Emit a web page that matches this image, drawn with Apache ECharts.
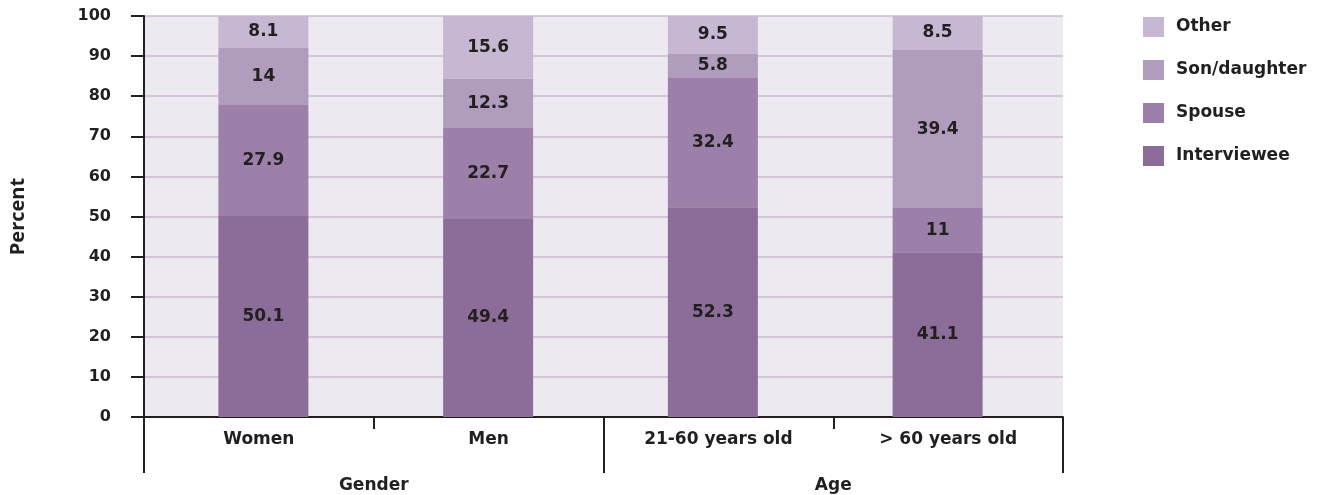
<!DOCTYPE html>
<html>
<head>
<meta charset="utf-8">
<script src="https://cdn.jsdelivr.net/npm/echarts@6/dist/echarts.min.js"></script>
<style>
html,body{margin:0;padding:0;background:#fff;}
#chart{width:1323px;height:495px;}
</style>
</head>
<body>
<div id="chart"></div>
<script>
var categories = ['Women', 'Men', '21-60 years old', '> 60 years old'];
var groups = ['Gender', 'Age'];
var interviewee = [50.1, 49.4, 52.3, 41.1];
var spouse = [27.9, 22.7, 32.4, 11];
var sonDaughter = [14, 12.3, 5.8, 39.4];
var other = [8.1, 15.6, 9.5, 8.5];
var seriesNames = ['Interviewee', 'Spouse', 'Son/daughter', 'Other'];
var legendOrder = ['Other', 'Son/daughter', 'Spouse', 'Interviewee'];
var yTicks = [0, 10, 20, 30, 40, 50, 60, 70, 80, 90, 100];

var FONT = 'DejaVu Sans';
var TXT = '#231f20';
var colors = ['#8c6c99', '#9d80a9', '#b09cbd', '#c6b7d2'];
var values = [interviewee, spouse, sonDaughter, other];

var chart = echarts.init(document.getElementById('chart'));
var series = seriesNames.map(function (n, i) {
  return {
    name: n,
    type: 'bar',
    stack: 'total',
    xAxisIndex: 2,
    yAxisIndex: 1,
    barWidth: 90,
    data: values[i],
    itemStyle: { color: colors[i] },
    label: {
      show: true,
      position: 'inside',
      color: TXT,
      fontFamily: FONT,
      fontWeight: 'bold',
      fontSize: 17
    }
  };
});

chart.setOption({
  animation: false,
  backgroundColor: '#ffffff',
  grid: [
    { left: 144, right: 260, top: 16, bottom: 78, show: true, backgroundColor: '#ede9f0', borderWidth: 0, outerBoundsMode: 'none', containLabel: false },
    { left: 151, right: 273, top: 16, bottom: 78, show: false, outerBoundsMode: 'none', containLabel: false }
  ],
  legend: {
    orient: 'vertical',
    left: 1138, top: 12,
    itemWidth: 21, itemHeight: 20, itemGap: 23,
    icon: 'rect',
    data: legendOrder,
    textStyle: { color: TXT, fontFamily: FONT, fontWeight: 'bold', fontSize: 17, padding: [0, 0, 0, 7] }
  },
  xAxis: [
    {
      type: 'category',
      gridIndex: 0,
      data: categories,
      position: 'bottom',
      axisLine: { show: true, lineStyle: { color: '#231f20', width: 2 } },
      axisTick: { show: true, interval: 0, length: 12, lineStyle: { color: '#231f20', width: 2 } },
      axisLabel: { interval: 0, margin: 14, color: TXT, fontFamily: FONT, fontWeight: 'bold', fontSize: 17 }
    },
    {
      type: 'category',
      gridIndex: 0,
      data: groups,
      position: 'bottom',
      axisLine: { show: false },
      axisTick: { show: true, interval: 0, length: 56, lineStyle: { color: '#231f20', width: 2 } },
      axisLabel: { interval: 0, margin: 60, color: TXT, fontFamily: FONT, fontWeight: 'bold', fontSize: 17 }
    },
    {
      type: 'category',
      gridIndex: 1,
      data: categories,
      show: false
    }
  ],
  yAxis: [
    {
      type: 'value',
      gridIndex: 0,
      min: yTicks[0], max: yTicks[yTicks.length - 1], interval: 10,
      name: 'Percent',
      nameLocation: 'middle',
      nameGap: 108,
      nameRotate: 90,
      nameTextStyle: { color: TXT, fontFamily: 'Open Sans', fontWeight: 'bold', fontSize: 20, padding: [0, 0, 8, 0] },
      axisLine: { show: true, lineStyle: { color: '#231f20', width: 2 } },
      axisTick: { show: true, length: 13, lineStyle: { color: '#231f20', width: 2 } },
      axisLabel: { margin: 33, color: TXT, fontFamily: FONT, fontWeight: 'bold', fontSize: 16 },
      splitLine: { show: true, lineStyle: { color: '#cbb9d3', width: 1.5 } }
    },
    {
      type: 'value',
      gridIndex: 1,
      min: yTicks[0], max: yTicks[yTicks.length - 1], interval: 10,
      show: false,
      splitLine: { show: false }
    }
  ],
  series: series
});
</script>
</body>
</html>
